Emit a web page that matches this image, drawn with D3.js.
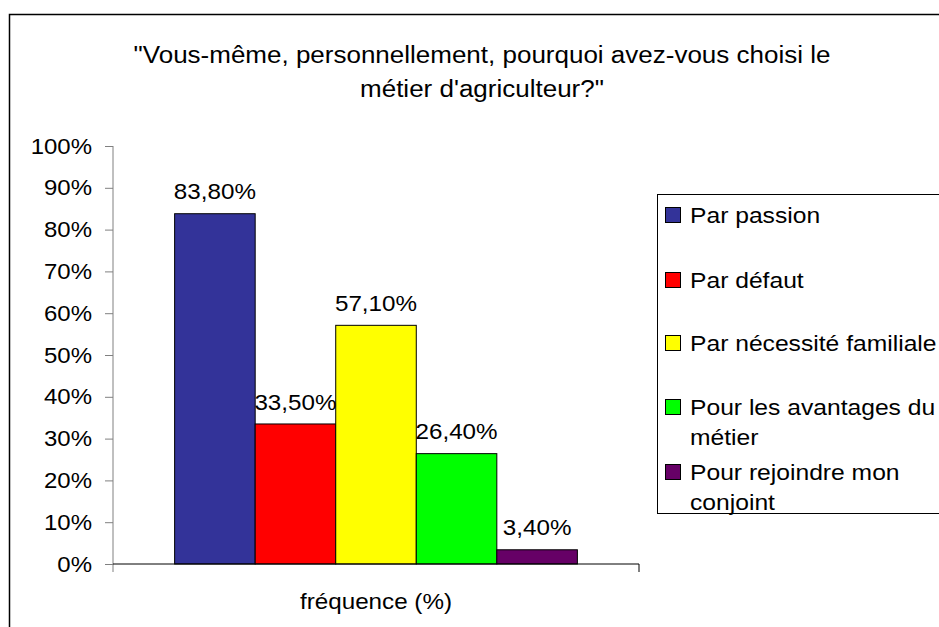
<!DOCTYPE html>
<html>
<head>
<meta charset="utf-8">
<script src="https://cdn.jsdelivr.net/npm/d3@7"></script>
<style>
  body { margin: 0; background: #fff; }
  text { font-family: "Liberation Sans", Arial, sans-serif; fill: #000; }
</style>
</head>
<body>
<div id="chart"></div>
<script>
const titleLines = ["\"Vous-même, personnellement, pourquoi avez-vous choisi le", "métier d'agriculteur?\""];
const category = "fréquence (%)";
const series = ["Par passion", "Par défaut", "Par nécessité familiale", "Pour les avantages du métier", "Pour rejoindre mon conjoint"];
const values = [83.8, 33.5, 57.1, 26.4, 3.4];
const colors = ["#333399", "#ff0000", "#ffff00", "#00ff00", "#660066"];
const legendLines = [["Par passion"], ["Par défaut"], ["Par nécessité familiale"], ["Pour les avantages du", "métier"], ["Pour rejoindre mon", "conjoint"]];
const yTicks = [0, 10, 20, 30, 40, 50, 60, 70, 80, 90, 100];

const W = 939, H = 627;
const plot = { left: 113, right: 639, top: 146, bottom: 564 };

// the original text is a little wider than Liberation Sans, stretch it
function stretch(sel, k) {
  sel.each(function () {
    const w = this.getComputedTextLength();
    d3.select(this).attr("textLength", w * k).attr("lengthAdjust", "spacingAndGlyphs");
  });
}

const svg = d3.select("#chart").append("svg")
  .attr("width", W)
  .attr("height", H);

// outer chart border (cut off at the right and bottom)
svg.append("rect")
  .attr("x", 9.5).attr("y", 14.5)
  .attr("width", W + 20).attr("height", H + 20)
  .attr("fill", "none").attr("stroke", "#000").attr("stroke-width", 1.5);

// title
svg.append("g").selectAll("text")
  .data(titleLines)
  .enter().append("text")
  .attr("x", 482)
  .attr("y", (d, i) => 55 + i * 34)
  .attr("dy", "0.35em")
  .attr("text-anchor", "middle")
  .style("font-size", "23px")
  .text(d => d)
  .call(stretch, 1.13);

const y = d3.scaleLinear().domain([0, 100]).range([plot.bottom, plot.top]);
const x0 = d3.scaleBand().domain([category]).range([plot.left, plot.right]).paddingOuter(0.153);
const x1 = d3.scaleBand().domain(series).range([0, x0.bandwidth()]);

// y axis
const yAxis = d3.axisLeft(y).tickValues(yTicks).tickFormat(d => d + "%").tickSize(8).tickPadding(13);
const yg = svg.append("g")
  .attr("transform", `translate(${plot.left},0)`)
  .call(yAxis);
yg.select(".domain").attr("stroke", "#808080").attr("d", `M0,${plot.top}V${plot.bottom + 8}`);
yg.selectAll(".tick line").attr("stroke", "#808080");
yg.selectAll(".tick text").style("font-size", "22px").attr("fill", "#000").call(stretch, 1.09);

// bars
const g = svg.append("g").attr("transform", `translate(${x0(category)},0)`);
g.selectAll("rect")
  .data(values)
  .enter().append("rect")
  .attr("x", (d, i) => x1(series[i]))
  .attr("y", d => y(d))
  .attr("width", x1.bandwidth())
  .attr("height", d => y(0) - y(d))
  .attr("fill", (d, i) => colors[i])
  .attr("stroke", "#000")
  .attr("stroke-width", 1);

g.selectAll("text.val")
  .data(values)
  .enter().append("text")
  .attr("class", "val")
  .attr("x", (d, i) => x1(series[i]) + x1.bandwidth() / 2)
  .attr("y", d => y(d) - 22)
  .attr("dy", "0.35em")
  .attr("text-anchor", "middle")
  .style("font-size", "22px")
  .text(d => d.toFixed(2).replace(".", ",") + "%")
  .call(stretch, 1.1);

// x axis
const xg = svg.append("g").attr("transform", `translate(0,${plot.bottom})`);
xg.append("path")
  .attr("d", `M${plot.left},0H${plot.right}V8`)
  .attr("fill", "none").attr("stroke", "#000");
xg.append("text")
  .attr("x", (plot.left + plot.right) / 2)
  .attr("y", 37)
  .attr("dy", "0.35em")
  .attr("text-anchor", "middle")
  .style("font-size", "22px")
  .text(category)
  .call(stretch, 1.1);

// legend
const legend = svg.append("g").attr("transform", "translate(657,194)");
legend.append("rect")
  .attr("x", 0.5).attr("y", 0.5)
  .attr("width", 400).attr("height", 319)
  .attr("fill", "#fff").attr("stroke", "#000");
const entryY = [21, 86, 149, 213, 278];
const items = legend.selectAll("g.item")
  .data(series)
  .enter().append("g")
  .attr("class", "item")
  .attr("transform", (d, i) => `translate(0,${entryY[i]})`);
items.append("rect")
  .attr("x", 8.5).attr("y", -7.5)
  .attr("width", 15).attr("height", 15)
  .attr("fill", (d, i) => colors[i])
  .attr("stroke", "#000");
items.each(function (d, i) {
  d3.select(this).selectAll("text")
    .data(legendLines[i])
    .enter().append("text")
    .attr("x", 33)
    .attr("y", (t, j) => j * 30)
    .attr("dy", "0.35em")
    .style("font-size", "22px")
    .text(t => t)
    .call(stretch, 1.12);
});
</script>
</body>
</html>
